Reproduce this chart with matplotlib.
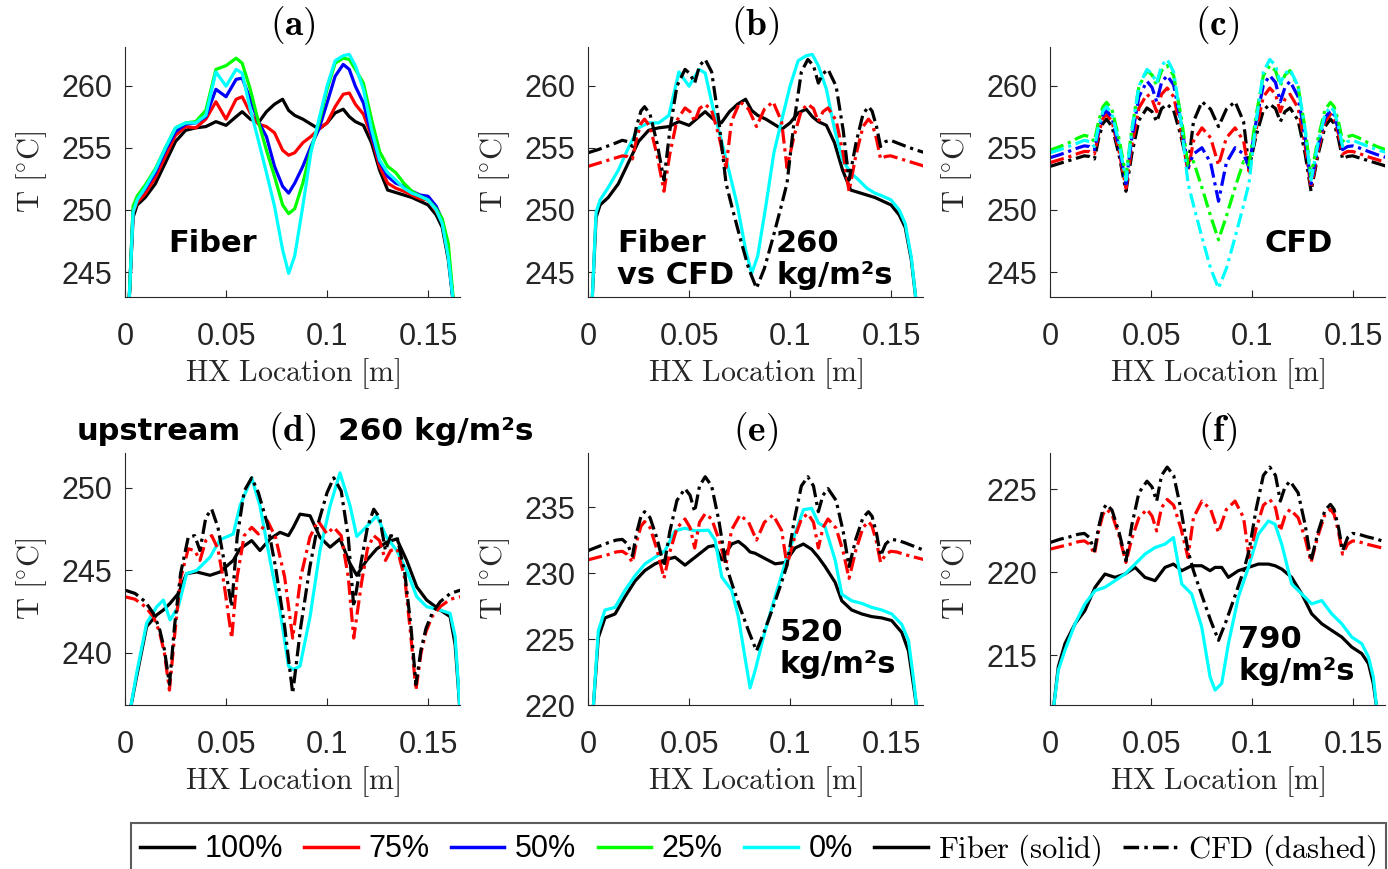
import matplotlib
matplotlib.use("Agg")
import matplotlib.pyplot as plt
from matplotlib.lines import Line2D

plt.rcParams['mathtext.fontset'] = 'cm'
plt.rcParams['font.family'] = ['Liberation Sans', 'DejaVu Sans']

# ---------------- data ----------------
# fiber measurements, 260 kg/m2s, mid-plane (panels a, b)
fx_a = [0.002, 0.004, 0.006, 0.010, 0.015, 0.020, 0.025, 0.030, 0.035, 0.040,
        0.045, 0.050, 0.055, 0.058, 0.062, 0.066, 0.070, 0.074, 0.078, 0.081,
        0.084, 0.088, 0.092, 0.096, 0.100, 0.104, 0.108, 0.111, 0.114, 0.118,
        0.122, 0.126, 0.130, 0.134, 0.138, 0.142, 0.146, 0.150, 0.154, 0.157,
        0.160, 0.1625]
fib_a_100 = [242.5, 249.4, 250.4, 251.0, 252.1, 253.8, 255.5, 256.4, 256.6, 256.7,
             257.1, 256.8, 257.5, 257.9, 257.3, 257.0, 257.9, 258.5, 258.9, 258.0,
             257.6, 257.3, 256.9, 256.5, 257.0, 257.8, 258.1, 257.5, 257.1, 256.8,
             255.4, 253.2, 251.6, 251.4, 251.2, 251.0, 250.7, 250.4, 249.6, 248.6,
             246.0, 242.5]
fib_a_75 = [242.5, 249.8, 250.6, 251.3, 252.6, 254.3, 256.0, 256.7, 256.6, 257.3,
            258.7, 257.3, 258.9, 259.1, 257.8, 256.9, 256.7, 256.2, 254.8, 254.4,
            254.6, 255.4, 255.9, 256.5, 257.0, 258.3, 259.3, 259.4, 258.5, 257.7,
            255.9, 253.5, 252.15, 251.75, 251.5, 251.2, 250.9, 250.8, 249.9, 249.1,
            246.5, 242.5]
fib_a_50 = [242.5, 250.0, 250.9, 251.7, 253.0, 254.8, 256.3, 256.9, 257.0, 257.5,
            259.7, 259.1, 260.5, 260.6, 258.9, 257.1, 255.9, 253.5, 251.9, 251.35,
            252.15, 253.5, 255.1, 256.5, 258.6, 260.75, 261.7, 261.3, 259.95, 258.6,
            256.05, 253.9, 252.7, 252.15, 251.9, 251.5, 251.2, 251.1, 250.3, 249.2,
            246.5, 242.5]
fib_a_25 = [242.5, 250.3, 251.1, 252.0, 253.3, 255.0, 256.6, 257.0, 257.1, 258.0,
            261.3, 261.6, 262.2, 261.8, 259.7, 257.1, 254.8, 252.7, 250.4, 249.7,
            250.1, 252.15, 254.8, 257.0, 259.7, 261.8, 262.2, 262.1, 261.3, 260.2,
            257.3, 254.7, 253.5, 253.0, 252.15, 251.5, 251.1, 250.8, 250.1, 249.3,
            247.3, 242.8]
fib_a_0 = [242.5, 249.8, 250.8, 251.8, 253.2, 255.0, 256.6, 257.0, 257.0, 257.6,
           261.1, 259.95, 261.3, 261.0, 258.1, 255.6, 253.0, 250.3, 246.8, 244.9,
           246.3, 250.3, 254.6, 257.3, 259.95, 262.0, 262.4, 262.5, 261.6, 259.7,
           256.5, 254.0, 253.0, 252.4, 251.75, 251.35, 251.1, 250.8, 250.0, 248.9,
           246.2, 242.5]

# CFD profiles (panels b, c, e, f)
cx = [0, .005, .010, .014, .017, .0195, .022, .024, .0262, .028, .0307, .0342,
      .0376, .0405, .044, .048, .0505, .0528, .0552, .058, .0612, .0648, .0683,
      .071, .0752, .0795, .0834,
      .0873, .0916, .0958, .0985, .102, .1056, .1088, .1116, .114, .1163, .1188,
      .1228, .1263, .1292, .1326, .1361, .1388, .1406, .1428, .1448, .1473,
      .1498, .1528, .1568, .1618, .1668]
cfd_c_100 = [253.5, 253.75, 254.0, 254.2, 254.35, 254.3, 254.1, 255.7, 256.95, 257.3,
             256.7, 254.4, 251.5, 254.5, 257.2, 258.2, 257.9, 257.1, 258.15, 258.5,
             258.0, 255.95, 253.4, 257.1, 258.7, 258.1, 256.7,
             258.1, 258.7, 257.1, 253.4, 255.95, 258.0, 258.5, 258.15, 257.1, 257.9,
             258.2, 257.2, 254.5, 251.5, 254.4, 256.7, 257.3, 256.95, 255.7, 254.1,
             254.3, 254.35, 254.2, 254.0, 253.75, 253.5]
cfd_c_75 = [253.8, 254.05, 254.3, 254.55, 254.7, 254.7, 254.5, 256.1, 257.35, 257.7,
            257.1, 254.7, 251.75, 255.15, 258.2, 259.3, 258.9, 257.9, 259.3, 259.8,
            259.1, 256.45, 253.1, 255.55, 256.6, 255.8, 253.6,
            255.8, 256.6, 255.55, 253.1, 256.45, 259.1, 259.8, 259.3, 257.9, 258.9,
            259.3, 258.2, 255.15, 251.75, 254.7, 257.1, 257.7, 257.35, 256.1, 254.5,
            254.7, 254.7, 254.55, 254.3, 254.05, 253.8]
cfd_c_50 = [254.2, 254.45, 254.75, 255.0, 255.15, 255.1, 254.85, 256.4, 257.65, 258.0,
            257.4, 255.05, 252.1, 255.8, 259.1, 260.35, 259.85, 258.7, 260.25, 260.8,
            260.05, 257.1, 253.4, 254.5, 255.0, 253.8, 250.7,
            253.8, 255.0, 254.5, 253.4, 257.1, 260.05, 260.8, 260.25, 258.7, 259.85,
            260.35, 259.1, 255.8, 252.1, 255.05, 257.4, 258.0, 257.65, 256.4, 254.85,
            255.1, 255.15, 255.0, 254.75, 254.45, 254.2]
cfd_c_25 = [254.8, 255.1, 255.45, 255.8, 256.0, 255.9, 255.5, 257.1, 258.3, 258.65,
            258.05, 255.7, 252.7, 256.5, 259.9, 261.2, 260.85, 260.0, 261.2, 261.6,
            260.8, 257.6, 253.6, 253.9, 251.8, 249.5, 247.6,
            249.5, 251.8, 253.9, 253.6, 257.6, 260.8, 261.6, 261.2, 260.0, 260.85,
            261.2, 259.9, 256.5, 252.7, 255.7, 258.05, 258.65, 258.3, 257.1, 255.5,
            255.9, 256.0, 255.8, 255.45, 255.1, 254.8]
cfd_c_0 = [254.6, 254.85, 255.15, 255.4, 255.6, 255.5, 255.1, 256.7, 257.95, 258.3,
           257.7, 255.35, 252.4, 256.4, 259.95, 261.3, 260.95, 260.2, 261.6, 262.1,
           261.1, 257.1, 252.15, 250.4, 247.8, 245.3, 243.7,
           245.3, 247.8, 250.4, 252.15, 257.1, 261.1, 262.1, 261.6, 260.2, 260.95,
           261.3, 259.95, 256.4, 252.4, 255.35, 257.7, 258.3, 257.95, 256.7, 255.1,
           255.5, 255.6, 255.4, 255.15, 254.85, 254.6]

# upstream plane, 260 kg/m2s (panel d)
fx_d = [0.0025, 0.0058, 0.0107, 0.0157, 0.0190, 0.0223, 0.0264, 0.0305, 0.0355,
        0.0421, 0.0470, 0.0536, 0.0569, 0.0627, 0.0668, 0.0718, 0.0767, 0.0809,
        0.0833, 0.0866, 0.0916, 0.0965, 0.1015, 0.1064, 0.1114, 0.1147, 0.1196,
        0.1246, 0.1295, 0.1345, 0.1394, 0.1444, 0.1493, 0.1559, 0.1609, 0.1634,
        0.1658]
fib_d_100 = [236.5, 238.6, 241.6, 242.3, 242.6, 243.0, 243.6, 244.8, 244.9, 244.7,
             244.9, 245.6, 246.3, 246.8, 246.2, 246.9, 247.3, 247.1, 247.6, 248.4,
             248.3, 247.0, 246.4, 246.9, 245.4, 244.7, 245.6, 246.3, 246.7, 246.9,
             245.6, 244.0, 243.2, 242.6, 242.2, 240.5, 236.5]
fib_d_0 = [236.5, 238.8, 241.8, 242.8, 243.2, 242.0, 242.8, 244.8, 245.0, 245.8,
           246.85, 247.2, 248.9, 250.6, 248.9, 245.6, 242.6, 239.2, 239.0, 239.2,
           242.2, 246.2, 248.9, 250.9, 248.9, 247.05, 247.65, 248.3, 247.0, 246.2,
           245.0, 243.4, 242.8, 242.6, 242.4, 241.0, 236.5]
cx_d = [0, .005, .010, .014, .017, .0195, .022, .0245, .0275, .0313, .0345, .0371,
        .040, .0429, .046, .049, .0528, .0555, .059, .0627, .066, .0705, .0745,
        .079, .083,
        .087, .0915, .0955, .100, .1033, .107, .1105, .1132, .117, .120, .1231,
        .126, .1289, .1315, .1347, .1385, .1415, .144, .1465, .149, .152, .156,
        .161, .166]
cfd_d_0 = [243.8, 243.6, 243.1, 242.4, 241.5, 240.2, 238.1, 241.6, 244.8, 247.0,
           247.1, 246.2, 248.2, 248.7, 247.6, 245.6, 242.8, 247.0, 249.8, 250.6,
           249.7, 247.8, 245.2, 241.6, 237.55,
           241.6, 245.2, 247.8, 249.7, 250.6, 249.8, 247.0, 242.8, 245.6, 247.6,
           248.7, 248.2, 246.2, 247.1, 247.0, 244.8, 241.6, 238.1, 240.2, 241.5,
           242.4, 243.1, 243.6, 243.8]
cfd_d_100 = [243.4, 243.25, 242.8, 242.2, 241.3, 240.0, 237.75, 241.0, 244.5, 246.3,
             246.2, 245.6, 246.8, 247.1, 246.3, 244.2, 240.9, 244.6, 247.1, 247.6,
             247.2, 248.0, 247.0, 244.6, 240.9,
             244.6, 247.0, 248.0, 247.2, 247.6, 247.1, 244.6, 240.9, 244.2, 246.3,
             247.1, 246.8, 245.6, 246.2, 246.3, 244.5, 241.0, 237.75, 240.0, 241.3,
             242.2, 242.8, 243.25, 243.4]

# 520 kg/m2s (panel e)
fx_e = [0.0026, 0.0051, 0.0084, 0.0134, 0.0183, 0.0233, 0.0282, 0.0332, 0.0381,
        0.0431, 0.0480, 0.0530, 0.0596, 0.0629, 0.0662, 0.0711, 0.0744, 0.0777,
        0.0802, 0.0827, 0.0876, 0.0926, 0.0975, 0.1025, 0.1066, 0.1107, 0.1140,
        0.1173, 0.1223, 0.1256, 0.1305, 0.1355, 0.1404, 0.1454, 0.1503, 0.1553,
        0.1586, 0.1610, 0.1627]
fib_e_100 = [219.8, 225.1, 226.6, 226.9, 228.2, 229.4, 230.2, 230.7, 231.0, 231.2,
             230.6, 231.2, 232.0, 232.1, 231.0, 232.2, 232.4, 232.0, 231.6, 231.5,
             231.1, 230.7, 230.8, 231.9, 232.2, 231.8, 231.2, 230.5, 229.3, 227.9,
             227.2, 226.9, 226.7, 226.6, 226.4, 225.5, 224.1, 221.6, 219.8]
fib_e_0 = [219.8, 225.6, 227.2, 227.4, 228.7, 229.8, 230.7, 231.2, 231.7, 233.2,
           233.4, 233.2, 233.25, 232.5, 229.7, 228.7, 226.7, 223.6, 221.3, 222.6,
           225.6, 228.2, 230.7, 233.0, 234.8, 234.9, 233.8, 233.5, 231.0, 228.4,
           227.9, 227.7, 227.4, 227.2, 226.9, 226.1, 224.9, 222.1, 219.8]
cfd_e_0 = [231.7, 232.0, 232.3, 232.5, 232.55, 232.2, 231.3, 233.0, 234.3, 234.65,
           234.2, 232.6, 230.5, 233.15, 235.5, 236.4, 235.9, 234.65, 236.6, 237.3,
           236.6, 233.95, 230.6, 229.3, 227.4, 225.6, 224.1,
           225.6, 227.4, 229.3, 230.6, 233.95, 236.6, 237.3, 236.6, 234.65, 235.9,
           236.4, 235.5, 233.15, 230.5, 232.6, 234.2, 234.65, 234.3, 233.0, 231.3,
           232.2, 232.55, 232.5, 232.3, 232.0, 231.7]
cfd_e_100 = [231.0, 231.2, 231.4, 231.6, 231.65, 231.4, 230.8, 232.35, 233.55, 233.9,
             233.45, 231.75, 229.6, 231.6, 233.4, 234.1, 233.45, 231.9, 233.85, 234.5,
             234.1, 232.55, 230.6, 233.25, 234.4, 233.85, 232.5,
             233.85, 234.4, 233.25, 230.6, 232.55, 234.1, 234.5, 233.85, 231.9, 233.45,
             234.1, 233.4, 231.6, 229.6, 231.75, 233.45, 233.9, 233.55, 232.35, 230.8,
             231.4, 231.65, 231.6, 231.4, 231.2, 231.0]

# 790 kg/m2s (panel f)
fx_f = [0.0017, 0.0041, 0.0074, 0.0124, 0.0173, 0.0223, 0.0272, 0.0322, 0.0371,
        0.0421, 0.0470, 0.0520, 0.0569, 0.0611, 0.0652, 0.0701, 0.0751, 0.0792,
        0.0817, 0.0850, 0.0883, 0.0932, 0.0982, 0.1031, 0.1081, 0.1114, 0.1147,
        0.1196, 0.1246, 0.1295, 0.1345, 0.1394, 0.1444, 0.1493, 0.1543, 0.1576,
        0.1600, 0.1617]
fib_f_100 = [211.8, 214.3, 215.7, 216.9, 217.7, 219.1, 219.9, 219.7, 219.9, 220.3,
             219.7, 219.5, 220.3, 220.5, 220.1, 220.4, 220.4, 220.1, 220.3, 220.3,
             219.7, 220.1, 220.3, 220.5, 220.5, 220.4, 220.2, 219.7, 218.7, 217.5,
             216.9, 216.5, 216.1, 215.5, 215.1, 214.5, 213.3, 211.8]
fib_f_0 = [211.8, 214.1, 215.3, 216.9, 218.1, 218.9, 219.1, 219.5, 219.9, 220.5,
           221.1, 221.5, 221.7, 222.1, 219.3, 218.7, 216.7, 213.7, 212.9, 213.3,
           215.7, 218.5, 220.3, 222.3, 223.1, 222.9, 221.7, 219.3, 218.7, 218.1,
           218.3, 217.5, 216.9, 216.1, 215.7, 214.9, 213.7, 211.8]
cfd_f_0 = [221.8, 222.0, 222.15, 222.3, 222.35, 222.1, 221.3, 222.7, 223.8, 224.1,
           223.75, 222.4, 220.7, 222.85, 224.8, 225.5, 225.15, 224.3, 225.85, 226.35,
           225.85, 223.8, 221.3, 220.1, 218.6, 217.1, 215.9,
           217.1, 218.6, 220.1, 221.3, 223.8, 225.85, 226.35, 225.85, 224.3, 225.15,
           225.5, 224.8, 222.85, 220.7, 222.4, 223.75, 224.1, 223.8, 222.7, 221.3,
           222.1, 222.35, 222.3, 222.15, 222.0, 221.8]
cfd_f_100 = [221.4, 221.55, 221.7, 221.85, 221.9, 221.7, 221.1, 222.45, 223.5, 223.8,
             223.5, 222.2, 220.6, 222.05, 223.3, 223.8, 223.4, 222.5, 223.9, 224.4,
             224.05, 222.65, 220.9, 223.3, 224.3, 223.8, 222.4,
             223.8, 224.3, 223.3, 220.9, 222.65, 224.05, 224.4, 223.9, 222.5, 223.4,
             223.8, 223.3, 222.05, 220.6, 222.2, 223.5, 223.8, 223.5, 222.45, 221.1,
             221.7, 221.9, 221.85, 221.7, 221.55, 221.4]

xticks = [0, 0.05, 0.1, 0.15]
xticklabels = ['0', '0.05', '0.1', '0.15']

# ---------------- plotting ----------------
K, R, B, G, C = 'k', '#ff0000', '#0000ff', '#00ff00', '#00ffff'
DASH = (0, (4.5, 1.5, 1, 1.5))
LW = 2.3
TXT = '#262626'

W, H = 1388, 869
fig = plt.figure(figsize=(W / 100, H / 100), dpi=100)


def add_ax(l, t, r, b):
    return fig.add_axes([l / W, 1 - b / H, (r - l) / W, (b - t) / H])


def style(ax, ylim, yticks, title):
    ax.set_xlim(0, 0.1658)
    ax.set_ylim(*ylim)
    ax.set_xticks(xticks)
    ax.set_xticklabels(xticklabels)
    ax.set_yticks(yticks)
    ax.tick_params(direction='in', length=5, labelsize=22, colors=TXT)
    ax.tick_params(axis='x', pad=18)
    ax.tick_params(axis='y', pad=9)
    for s in ['top', 'right']:
        ax.spines[s].set_visible(False)
    for s in ['left', 'bottom']:
        ax.spines[s].set_color(TXT)
    ax.set_xlabel(r'$\mathrm{HX\ Location\ [m]}$', fontsize=21.5, labelpad=3, color=TXT)
    ax.set_ylabel(r'$\mathrm{T\ [^{\circ}C]}$', fontsize=22, labelpad=9, color=TXT)
    ax.set_title(r'$\mathbf{' + title + '}$', fontsize=27, pad=7)


ann = dict(fontsize=22, fontweight='bold', family='DejaVu Sans', ha='left', va='center',
           linespacing=1.15)

# (a)
ax = add_ax(125, 47, 460, 297)
for y, c in [(fib_a_100, K), (fib_a_75, R), (fib_a_50, B), (fib_a_25, G), (fib_a_0, C)]:
    ax.plot(fx_a, y, color=c, lw=LW)
style(ax, (243.0, 263.1), [245, 250, 255, 260], '(a)')
ax.text(0.0213, 247.3, 'Fiber', **ann)

# (b)
ax = add_ax(588, 47, 923, 297)
ax.plot(fx_a, fib_a_100, color=K, lw=LW)
ax.plot(fx_a, fib_a_0, color=C, lw=LW)
ax.plot(cx, cfd_c_100, color=R, lw=LW, ls=DASH)
ax.plot(cx, cfd_c_0, color=K, lw=LW, ls=DASH)
style(ax, (243.0, 263.1), [245, 250, 255, 260], '(b)')
ax.text(0.0144, 246.0, 'Fiber\nvs CFD', **ann)
ax.text(0.0931, 246.0, '260\nkg/m²s', **ann)

# (c)
ax = add_ax(1050, 47, 1385, 297)
for y, c in [(cfd_c_100, K), (cfd_c_75, R), (cfd_c_50, B), (cfd_c_25, G), (cfd_c_0, C)]:
    ax.plot(cx, y, color=c, lw=LW, ls=DASH)
style(ax, (243.0, 263.1), [245, 250, 255, 260], '(c)')
ax.text(0.1064, 247.3, 'CFD', **ann)

# (d)
ax = add_ax(125, 453, 460, 705)
ax.plot(fx_d, fib_d_100, color=K, lw=LW)
ax.plot(fx_d, fib_d_0, color=C, lw=LW)
ax.plot(cx_d, cfd_d_100, color=R, lw=LW, ls=DASH)
ax.plot(cx_d, cfd_d_0, color=K, lw=LW, ls=DASH)
style(ax, (236.85, 252.1), [240, 245, 250], '(d)')
fig.text(77 / W, 1 - 432 / H, 'upstream', fontsize=22, fontweight='bold',
         family='DejaVu Sans', ha='left', va='center')
fig.text(338 / W, 1 - 432 / H, '260 kg/m²s', fontsize=22.5, fontweight='bold',
         family='DejaVu Sans', ha='left', va='center')

# (e)
ax = add_ax(588, 453, 923, 705)
ax.plot(fx_e, fib_e_100, color=K, lw=LW)
ax.plot(fx_e, fib_e_0, color=C, lw=LW)
ax.plot(cx, cfd_e_100, color=R, lw=LW, ls=DASH)
ax.plot(cx, cfd_e_0, color=K, lw=LW, ls=DASH)
style(ax, (220.0, 239.1), [220, 225, 230, 235], '(e)')
ax.text(0.0946, 224.3, '520\nkg/m²s', **ann)

# (f)
ax = add_ax(1050, 453, 1385, 705)
ax.plot(fx_f, fib_f_100, color=K, lw=LW)
ax.plot(fx_f, fib_f_0, color=C, lw=LW)
ax.plot(cx, cfd_f_100, color=R, lw=LW, ls=DASH)
ax.plot(cx, cfd_f_0, color=K, lw=LW, ls=DASH)
style(ax, (212.0, 227.2), [215, 220, 225], '(f)')
ax.text(0.0931, 215.0, '790\nkg/m²s', **ann)

# legend
handles = [Line2D([], [], color=K, lw=2.5), Line2D([], [], color=R, lw=2.5),
           Line2D([], [], color=B, lw=2.5), Line2D([], [], color=G, lw=2.5),
           Line2D([], [], color=C, lw=2.5), Line2D([], [], color=K, lw=2.5),
           Line2D([], [], color=K, lw=2.5, ls=DASH)]
labels = ['100%', '75%', '50%', '25%', '0%',
          r'$\mathrm{Fiber\ (solid)}$', r'$\mathrm{CFD\ (dashed)}$']
leg = fig.legend(handles, labels, loc='upper left', bbox_to_anchor=(131 / W, 1 - 823 / H),
                 ncol=7, fontsize=22, frameon=True, fancybox=False, edgecolor='#333333',
                 handlelength=1.75, handletextpad=0.35, columnspacing=0.7,
                 borderpad=0.3, borderaxespad=0)
leg.get_frame().set_linewidth(1.5)

fig.savefig('out.png', dpi=100)
